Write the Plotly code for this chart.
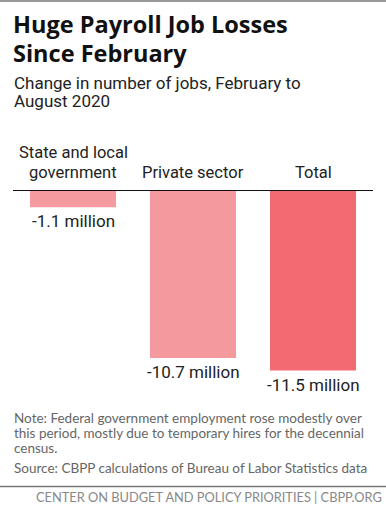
import plotly.graph_objects as go

categories = ["State and local<br>government", "Private sector", "Total"]
values = [-1.1, -10.7, -11.5]
value_labels = ["-1.1 million", "-10.7 million", "-11.5 million"]
colors = ["#F59A9F", "#F4999D", "#F26A72"]

title_lines = ["Huge Payroll Job Losses", "Since February"]
subtitle_lines = ["Change in number of jobs, February to", "August 2020"]
note_lines = [
    "Note: Federal government employment rose modestly over",
    "this period, mostly due to temporary hires for the decennial",
    "census.",
]
source_text = "Source: CBPP calculations of Bureau of Labor Statistics data"
footer_text = "CENTER ON BUDGET AND POLICY PRIORITIES | CBPP.ORG"

W, H = 386, 512
def px(x):
    return x / W
def py(y):
    return 1 - y / H

COND = "Roboto, sans-serif"
fig = go.Figure()
fig.add_trace(go.Bar(
    x=[0, 1, 2], y=values, marker=dict(color=colors, line=dict(width=0)),
    cliponaxis=False, hoverinfo="skip", width=0.717,
))

ann = []
for i, (v, t) in enumerate(zip(values, value_labels)):
    ann.append(dict(text=t, x=i, y=v, xref="x", yref="y", xanchor="center", yanchor="top",
                    yshift=-2, showarrow=False,
                    font=dict(family=COND, size=17, color="#222")))
for i, t in enumerate(title_lines):
    ann.append(dict(text="<b>" + t + "</b>", x=px(11), y=py(24 + 29 * i), xref="paper", yref="paper",
                    xanchor="left", yanchor="middle", showarrow=False,
                    font=dict(family="Open Sans, sans-serif", size=23.5, color="#111")))
for i, t in enumerate(subtitle_lines):
    ann.append(dict(text=t, x=px(12), y=py(83 + 18 * i), xref="paper", yref="paper",
                    xanchor="left", yanchor="middle", showarrow=False,
                    font=dict(family=COND, size=17, color="#222")))
cat_rows = [["State and local", "government"], ["Private sector"], ["Total"]]
for i, rows in enumerate(cat_rows):
    n = len(rows)
    for j, r in enumerate(rows):
        base = 178 - 20 * (n - 1 - j)
        ann.append(dict(text=r, x=i, y=py(base - 6), xref="x", yref="paper",
                        xanchor="center", yanchor="middle", showarrow=False,
                        font=dict(family=COND, size=16.5, color="#222")))
for i, t in enumerate(note_lines):
    ann.append(dict(text=t, x=px(12), y=py(418 + 15 * i), xref="paper", yref="paper",
                    xanchor="left", yanchor="middle", showarrow=False,
                    font=dict(family="Lato, sans-serif", size=13.5, color="#666")))
ann.append(dict(text=source_text, x=px(12), y=py(468), xref="paper", yref="paper",
                xanchor="left", yanchor="middle", showarrow=False,
                font=dict(family="Lato, sans-serif", size=13.5, color="#666")))
ann.append(dict(text=footer_text, x=px(384), y=py(497), xref="paper", yref="paper",
                xanchor="right", yanchor="middle", showarrow=False,
                font=dict(family="Lato, sans-serif", size=12.8, color="#888")))

shapes = [
    dict(type="line", xref="paper", yref="y", x0=px(13), x1=px(373), y0=0, y1=0,
         line=dict(color="#111", width=2)),
    dict(type="line", xref="paper", yref="paper", x0=0, x1=1, y0=py(1), y1=py(1),
         line=dict(color="#999", width=2)),
    dict(type="line", xref="paper", yref="paper", x0=0, x1=1, y0=py(486.5), y1=py(486.5),
         line=dict(color="#777", width=1.5)),
]

fig.update_layout(
    width=W, height=H, margin=dict(l=0, r=0, t=0, b=0),
    paper_bgcolor="white", plot_bgcolor="white", showlegend=False,
    xaxis=dict(domain=[px(13), px(373)], range=[-0.5, 2.5], visible=False, fixedrange=True),
    yaxis=dict(domain=[py(400), py(190)], range=[-210 / 15.7, 0], visible=False, fixedrange=True),
    annotations=ann, shapes=shapes,
)
fig.write_html("out.html", config={"displayModeBar": False},
               post_script="document.body.style.margin='0';document.body.style.overflow='hidden';")
